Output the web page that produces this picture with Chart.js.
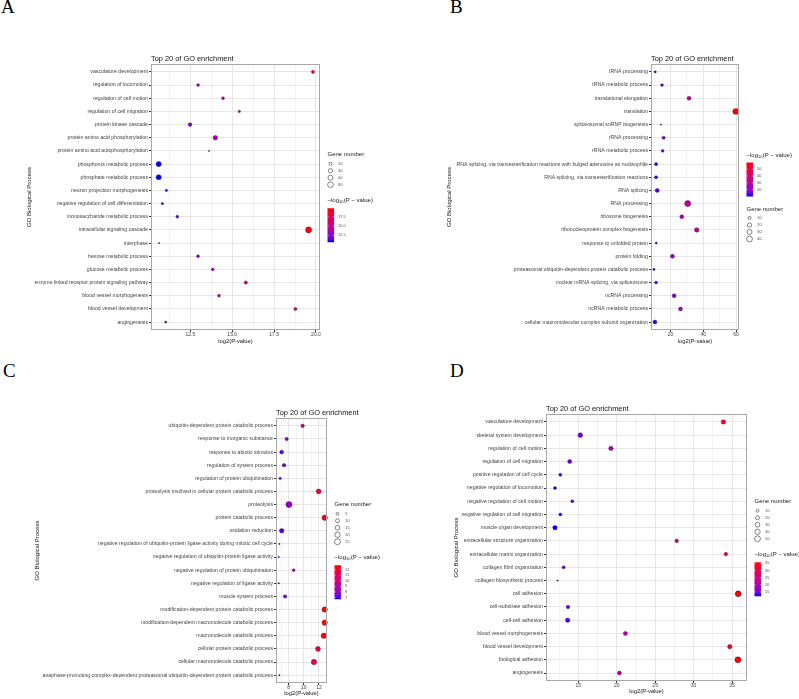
<!DOCTYPE html>
<html>
<head>
    <title>Top 20 of GO enrichment</title>
    <script src="https://cdn.jsdelivr.net/npm/chart.js"></script>
    <style>
        body {
            margin: 0;
            background: #ffffff;
            width: 799px;
            height: 699px;
            position: relative;
            overflow: hidden;
        }
        .panel {
            position: absolute;
        }
        .panel canvas {
            display: block;
        }
        .letter {
            position: absolute;
            font-family: "Liberation Serif", "Times New Roman", serif;
            font-size: 19px;
            line-height: 1;
            color: #000;
        }
    </style>
</head>
<body>
    <div class="letter" style="left:1px; top:-3px;">A</div>
    <div class="letter" style="left:450px; top:-3px;">B</div>
    <div class="letter" style="left:3px; top:361px;">C</div>
    <div class="letter" style="left:450px; top:361px;">D</div>

    <div class="panel" style="left:0px; top:40px;"><canvas id="chartA" width="400" height="320"></canvas></div>
    <div class="panel" style="left:400px; top:40px;"><canvas id="chartB" width="399" height="320"></canvas></div>
    <div class="panel" style="left:0px; top:390px;"><canvas id="chartC" width="400" height="309"></canvas></div>
    <div class="panel" style="left:400px; top:390px;"><canvas id="chartD" width="399" height="309"></canvas></div>

    <script>
        // ---- panel A ----
        var termsA = ['vasculature development', 'regulation of locomotion', 'regulation of cell motion',
            'regulation of cell migration', 'protein kinase cascade', 'protein amino acid phosphorylation',
            'protein amino acid autophosphorylation', 'phosphorus metabolic process', 'phosphate metabolic process',
            'neuron projection morphogenesis', 'negative regulation of cell differentiation',
            'monosaccharide metabolic process', 'intracellular signaling cascade', 'interphase',
            'hexose metabolic process', 'glucose metabolic process', 'enzyme linked receptor protein signaling pathway',
            'blood vessel morphogenesis', 'blood vessel development', 'angiogenesis'];
        var log2pA = [19.82, 12.96, 14.45, 15.42, 12.48, 13.99, 13.62, 10.61, 10.61, 11.07,
            10.83, 11.72, 19.56, 10.63, 12.96, 13.84, 15.81, 14.21, 18.77, 11.03];
        var genesA = [19, 16, 16, 12, 29, 49, 8, 64, 64, 12, 12, 16, 95, 8, 16, 16, 23, 16, 19, 10];
        var xTicksA = [12.5, 15, 17.5, 20];
        var xTickLabelsA = ['12.5', '15.0', '17.5', '20.0'];
        var xMinorA = [11.25, 13.75, 16.25, 18.75];
        var sizeBreaksA = [20, 40, 60, 80];
        var colorBreaksA = [12.5, 15, 17.5];
        var colorLabelsA = ['12.5', '15.0', '17.5'];

        // ---- panel B ----
        var termsB = ['tRNA processing', 'tRNA metabolic process', 'translational elongation', 'translation',
            'spliceosomal snRNP biogenesis', 'rRNA processing', 'rRNA metabolic process',
            'RNA splicing, via transesterification reactions with bulged adenosine as nucleophile',
            'RNA splicing, via transesterification reactions', 'RNA splicing', 'RNA processing',
            'ribosome biogenesis', 'ribonucleoprotein complex biogenesis', 'response to unfolded protein',
            'protein folding', 'proteasomal ubiquitin-dependent protein catabolic process',
            'nuclear mRNA splicing, via spliceosome', 'ncRNA processing', 'ncRNA metabolic process',
            'cellular macromolecular complex subunit organization'];
        var log2pB = [10.7, 14.8, 31.3, 59.8, 14.2, 15.8, 15.2, 11.2, 11.2, 11.9,
            30.5, 26.9, 36.0, 11.3, 21.2, 9.9, 11.2, 22.2, 26.1, 10.5];
        var genesB = [6, 9, 17, 41, 5, 11, 9, 11, 11, 17, 45, 17, 23, 6, 17, 6, 9, 17, 17, 17];
        var xTicksB = [20, 40, 60];
        var xTickLabelsB = ['20', '40', '60'];
        var xMinorB = [10, 30, 50];
        var sizeBreaksB = [10, 20, 30, 40];
        var colorBreaksB = [20, 30, 40, 50];
        var colorLabelsB = ['20', '30', '40', '50'];

        // ---- panel C ----
        var termsC = ['ubiquitin-dependent protein catabolic process', 'response to inorganic substance',
            'response to abiotic stimulus', 'regulation of system process', 'regulation of protein ubiquitination',
            'proteolysis involved in cellular protein catabolic process', 'proteolysis', 'protein catabolic process',
            'oxidation reduction', 'negative regulation of ubiquitin-protein ligase activity during mitotic cell cycle',
            'negative regulation of ubiquitin-protein ligase activity', 'negative regulation of protein ubiquitination',
            'negative regulation of ligase activity', 'muscle system process',
            'modification-dependent protein catabolic process', 'modification-dependent macromolecule catabolic process',
            'macromolecule catabolic process', 'cellular protein catabolic process',
            'cellular macromolecule catabolic process',
            'anaphase-promoting complex-dependent proteasomal ubiquitin-dependent protein catabolic process'];
        var log2pC = [9.85, 7.74, 7.08, 7.39, 6.87, 11.96, 8.04, 12.76, 7.08, 6.78,
            6.69, 8.66, 6.69, 7.53, 12.76, 12.76, 12.64, 11.87, 11.34, 6.78];
        var genesC = [8, 7, 10, 8, 4, 17, 27, 20, 14, 3, 3, 5, 3, 7, 20, 20, 20, 17, 20, 3];
        var xTicksC = [8, 10, 12];
        var xTickLabelsC = ['8', '10', '12'];
        var xMinorC = [7, 9, 11, 13];
        var sizeBreaksC = [5, 10, 15, 20, 25];
        var colorBreaksC = [7, 8, 9, 10, 11, 12];
        var colorLabelsC = ['7', '8', '9', '10', '11', '12'];

        // ---- panel D ----
        var termsD = ['vasculature development', 'skeletal system development', 'regulation of cell motion',
            'regulation of cell migration', 'positive regulation of cell cycle', 'negative regulation of locomotion',
            'negative regulation of cell motion', 'negative regulation of cell migration', 'muscle organ development',
            'extracellular structure organization', 'extracellular matrix organization', 'collagen fibril organization',
            'collagen biosynthetic process', 'cell adhesion', 'cell-substrate adhesion', 'cell-cell adhesion',
            'blood vessel morphogenesis', 'blood vessel development', 'biological adhesion', 'angiogenesis'];
        var log2pD = [33.88, 15.26, 19.25, 13.88, 12.66, 11.97, 14.22, 12.66, 11.97, 27.8,
            34.2, 13.09, 12.31, 35.8, 13.66, 13.62, 21.13, 34.71, 35.77, 20.35];
        var genesD = [26, 30, 26, 21, 11, 11, 11, 11, 26, 16, 16, 11, 5, 50, 16, 26, 21, 26, 55, 21];
        var xTicksD = [15, 20, 25, 30, 35];
        var xTickLabelsD = ['15', '20', '25', '30', '35'];
        var xMinorD = [12.5, 17.5, 22.5, 27.5, 32.5];
        var sizeBreaksD = [10, 20, 30, 40, 50];
        var colorBreaksD = [15, 20, 25, 30, 35];
        var colorLabelsD = ['15', '20', '25', '30', '35'];

        var FONT = '"Liberation Sans", Arial, sans-serif';

        // blue -> red gradient interpolated in CIELAB (like ggplot's scale_colour_gradient)
        function toLin(c) { c /= 255; return c <= 0.04045 ? c / 12.92 : Math.pow((c + 0.055) / 1.055, 2.4); }
        function fromLin(c) {
            c = c <= 0.0031308 ? 12.92 * c : 1.055 * Math.pow(c, 1 / 2.4) - 0.055;
            return Math.round(Math.max(0, Math.min(1, c)) * 255);
        }
        function rgbToLab(r, g, b) {
            var R = toLin(r), G = toLin(g), B = toLin(b);
            var X = (0.4124 * R + 0.3576 * G + 0.1805 * B) / 0.95047;
            var Y = 0.2126 * R + 0.7152 * G + 0.0722 * B;
            var Z = (0.0193 * R + 0.1192 * G + 0.9505 * B) / 1.08883;
            function f(t) { return t > 0.008856 ? Math.cbrt(t) : 7.787 * t + 16 / 116; }
            return [116 * f(Y) - 16, 500 * (f(X) - f(Y)), 200 * (f(Y) - f(Z))];
        }
        function labToRgb(L, a, b) {
            var fy = (L + 16) / 116, fx = fy + a / 500, fz = fy - b / 200;
            function fi(t) { return t > 0.206893 ? t * t * t : (t - 16 / 116) / 7.787; }
            var X = fi(fx) * 0.95047, Y = fi(fy), Z = fi(fz) * 1.08883;
            var R = 3.2406 * X - 1.5372 * Y - 0.4986 * Z;
            var G = -0.9689 * X + 1.8758 * Y + 0.0415 * Z;
            var B = 0.0557 * X - 0.2040 * Y + 1.0570 * Z;
            return 'rgb(' + fromLin(R) + ',' + fromLin(G) + ',' + fromLin(B) + ')';
        }
        var LOW = rgbToLab(0, 0, 255), HIGH = rgbToLab(255, 0, 0);
        function gradColor(t) {
            t = Math.max(0, Math.min(1, t));
            return labToRgb(LOW[0] + (HIGH[0] - LOW[0]) * t, LOW[1] + (HIGH[1] - LOW[1]) * t, LOW[2] + (HIGH[2] - LOW[2]) * t);
        }

        // point size: area scale like ggplot scale_size
        function radiusFor(n, nMin, nMax) {
            var t = (n - nMin) / (nMax - nMin);
            t = Math.max(0, Math.min(1, t));
            return (1.4 + Math.sqrt(t) * 4.7) / 2;
        }

        function drawLegend(chart, cfg) {
            var ctx = chart.ctx, a = chart.chartArea;
            var lx = a.right + 7.5;
            var n = cfg.sizeBreaks.length;
            var total = cfg.colorFirst ? (3 + 41.5 + 12.5 + 9 + 7 * (n - 1) + 3) : (3 + 9 + 7 * (n - 1) + 16 + 41.5);
            var top = (a.top + a.bottom) / 2 - total / 2;
            var sizeTitle, colorTitle;
            if (cfg.colorFirst) {
                colorTitle = top + 3;
                sizeTitle = colorTitle + 41.5 + 12.5;
            } else {
                sizeTitle = top + 3;
                colorTitle = sizeTitle + 9 + 7 * (n - 1) + 16;
            }
            ctx.save();
            ctx.textBaseline = 'middle';
            ctx.textAlign = 'left';

            // size legend
            ctx.fillStyle = '#1a1a1a';
            ctx.font = '6px ' + FONT;
            ctx.fillText('Gene number', lx, sizeTitle);
            cfg.sizeBreaks.forEach(function (b, k) {
                var cy = sizeTitle + 9 + 7 * k;
                ctx.beginPath();
                ctx.arc(lx + 3, cy, radiusFor(b, cfg.nMin, cfg.nMax), 0, Math.PI * 2);
                ctx.fillStyle = '#ffffff';
                ctx.fill();
                ctx.strokeStyle = '#333333';
                ctx.lineWidth = 0.6;
                ctx.stroke();
                ctx.fillStyle = '#4d4d4d';
                ctx.font = '3.8px ' + FONT;
                ctx.fillText(String(b), lx + 10.8, cy);
            });

            // colour legend
            ctx.fillStyle = '#1a1a1a';
            ctx.font = '6px ' + FONT;
            ctx.fillText('\u2212log', lx, colorTitle);
            var w1 = ctx.measureText('\u2212log').width;
            ctx.font = '4px ' + FONT;
            ctx.fillText('10', lx + w1, colorTitle + 1.6);
            var w2 = ctx.measureText('10').width;
            ctx.font = '6px ' + FONT;
            ctx.fillText('(P \u2212 value)', lx + w1 + w2 + 0.3, colorTitle);

            var barTop = colorTitle + 7.5, barH = 34, barW = 6.6;
            var grad = ctx.createLinearGradient(0, barTop + barH, 0, barTop);
            for (var s = 0; s <= 10; s++) grad.addColorStop(s / 10, gradColor(s / 10));
            ctx.fillStyle = grad;
            ctx.fillRect(lx, barTop, barW, barH);
            cfg.colorBreaks.forEach(function (v, k) {
                var y = barTop + barH - (v - cfg.cMin) / (cfg.cMax - cfg.cMin) * barH;
                ctx.strokeStyle = '#ffffff';
                ctx.lineWidth = 0.5;
                ctx.beginPath();
                ctx.moveTo(lx, y); ctx.lineTo(lx + 1.3, y);
                ctx.moveTo(lx + barW - 1.3, y); ctx.lineTo(lx + barW, y);
                ctx.stroke();
                ctx.fillStyle = '#4d4d4d';
                ctx.font = '3.8px ' + FONT;
                ctx.fillText(cfg.colorLabels[k], lx + 10.6, y);
            });
            ctx.restore();
        }

        function makePanel(id, cfg) {
            var nMin = Math.min.apply(null, cfg.genes), nMax = Math.max.apply(null, cfg.genes);
            var cMin = Math.min.apply(null, cfg.values), cMax = Math.max.apply(null, cfg.values);
            cfg.nMin = nMin; cfg.nMax = nMax; cfg.cMin = cMin; cfg.cMax = cMax;

            var points = cfg.values.map(function (v, i) {
                return { x: v, y: i + 1, r: radiusFor(cfg.genes[i], nMin, nMax) };
            });
            var colors = cfg.values.map(function (v) { return gradColor((v - cMin) / (cMax - cMin)); });
            var allX = cfg.xTicks.concat(cfg.xMinor).sort(function (p, q) { return p - q; });
            function isMajor(c) { return c.tick && cfg.xTicks.indexOf(c.tick.value) >= 0; }

            var decor = {
                id: 'decor_' + id,
                afterDraw: function (chart) {
                    var ctx = chart.ctx, a = chart.chartArea;
                    ctx.save();
                    ctx.strokeStyle = '#a8a8a8';
                    ctx.lineWidth = 1;
                    ctx.strokeRect(Math.round(a.left) + 0.5, Math.round(a.top) + 0.5,
                        Math.round(a.right - a.left) - 1, Math.round(a.bottom - a.top) - 1);
                    ctx.fillStyle = '#111111';
                    ctx.textBaseline = 'middle';
                    ctx.textAlign = 'left';
                    ctx.font = '7.4px ' + FONT;
                    ctx.fillText('Top 20 of GO enrichment', a.left, a.top - 5);
                    ctx.textAlign = 'center';
                    ctx.font = '5.8px ' + FONT;
                    ctx.fillText('log2(P-value)', (a.left + a.right) / 2, a.bottom + cfg.xTitleGap);
                    ctx.translate(cfg.yTitleX, (a.top + a.bottom) / 2);
                    ctx.rotate(-Math.PI / 2);
                    ctx.font = '6px ' + FONT;
                    ctx.fillText('GO Biological Process', 0, 0);
                    ctx.restore();
                    drawLegend(chart, cfg);
                }
            };

            return new Chart(document.getElementById(id).getContext('2d'), {
                type: 'bubble',
                data: {
                    datasets: [{
                        data: points,
                        backgroundColor: colors,
                        borderColor: 'rgba(30, 0, 40, 0.6)',
                        borderWidth: 0.6,
                        clip: false
                    }]
                },
                options: {
                    responsive: false,
                    animation: false,
                    devicePixelRatio: 1,
                    events: [],
                    layout: { padding: cfg.padding },
                    plugins: {
                        legend: { display: false },
                        tooltip: { enabled: false },
                        title: { display: false }
                    },
                    scales: {
                        x: {
                            type: 'linear',
                            min: cfg.xMin,
                            max: cfg.xMax,
                            afterBuildTicks: function (s) { s.ticks = allX.map(function (v) { return { value: v }; }); },
                            afterFit: function (s) { s.height = cfg.xHeight; },
                            border: { display: false },
                            grid: {
                                color: function (c) { return isMajor(c) ? '#e6e6e6' : '#f3f3f3'; },
                                tickColor: function (c) { return isMajor(c) ? '#333333' : 'rgba(0,0,0,0)'; },
                                tickLength: 2,
                                lineWidth: 1
                            },
                            ticks: {
                                autoSkip: false,
                                maxRotation: 0,
                                padding: 0,
                                color: '#444444',
                                font: { family: FONT, size: 5 },
                                callback: function (v) {
                                    var k = cfg.xTicks.indexOf(v);
                                    return k >= 0 ? cfg.xTickLabels[k] : '';
                                }
                            }
                        },
                        y: {
                            type: 'linear',
                            reverse: true,
                            min: 0.4,
                            max: cfg.terms.length + 0.6,
                            afterBuildTicks: function (s) {
                                s.ticks = cfg.terms.map(function (t, i) { return { value: i + 1 }; });
                            },
                            afterFit: function (s) { s.width = cfg.yWidth; },
                            border: { display: false },
                            grid: {
                                color: '#e6e6e6',
                                tickColor: '#333333',
                                tickLength: 2,
                                lineWidth: 1
                            },
                            ticks: {
                                autoSkip: false,
                                padding: 1,
                                color: '#444444',
                                font: { family: FONT, size: 5.2 },
                                callback: function (v, i) { return cfg.terms[i]; }
                            }
                        }
                    }
                },
                plugins: [decor]
            });
        }

        makePanel('chartA', {
            terms: termsA, values: log2pA, genes: genesA,
            xMin: 10.15, xMax: 20.24, xTicks: xTicksA, xTickLabels: xTickLabelsA, xMinor: xMinorA,
            sizeBreaks: sizeBreaksA, colorBreaks: colorBreaksA, colorLabels: colorLabelsA, colorFirst: false,
            padding: { left: 0, top: 24, right: 80, bottom: 18 }, yWidth: 151, xHeight: 12,
            yTitleX: 29.5, xTitleGap: 11
        });
        makePanel('chartB', {
            terms: termsB, values: log2pB, genes: genesB,
            xMin: 8.1, xMax: 61.8, xTicks: xTicksB, xTickLabels: xTickLabelsB, xMinor: xMinorB,
            sizeBreaks: sizeBreaksB, colorBreaks: colorBreaksB, colorLabels: colorLabelsB, colorFirst: true,
            padding: { left: 0, top: 24, right: 60, bottom: 18 }, yWidth: 251, xHeight: 12,
            yTitleX: 49.3, xTitleGap: 11.5
        });
        makePanel('chartC', {
            terms: termsC, values: log2pC, genes: genesC,
            xMin: 6.33, xMax: 13.06, xTicks: xTicksC, xTickLabels: xTickLabelsC, xMinor: xMinorC,
            sizeBreaks: sizeBreaksC, colorBreaks: colorBreaksC, colorLabels: colorLabelsC, colorFirst: false,
            padding: { left: 0, top: 28, right: 73, bottom: 6 }, yWidth: 276, xHeight: 10,
            yTitleX: 37.3, xTitleGap: 10
        });
        makePanel('chartD', {
            terms: termsD, values: log2pD, genes: genesD,
            xMin: 10.8, xMax: 36.95, xTicks: xTicksD, xTickLabels: xTickLabelsD, xMinor: xMinorD,
            sizeBreaks: sizeBreaksD, colorBreaks: colorBreaksD, colorLabels: colorLabelsD, colorFirst: false,
            padding: { left: 0, top: 24, right: 52, bottom: 6 }, yWidth: 146, xHeight: 12,
            yTitleX: 56.7, xTitleGap: 10.3
        });
    </script>
</body>
</html>
